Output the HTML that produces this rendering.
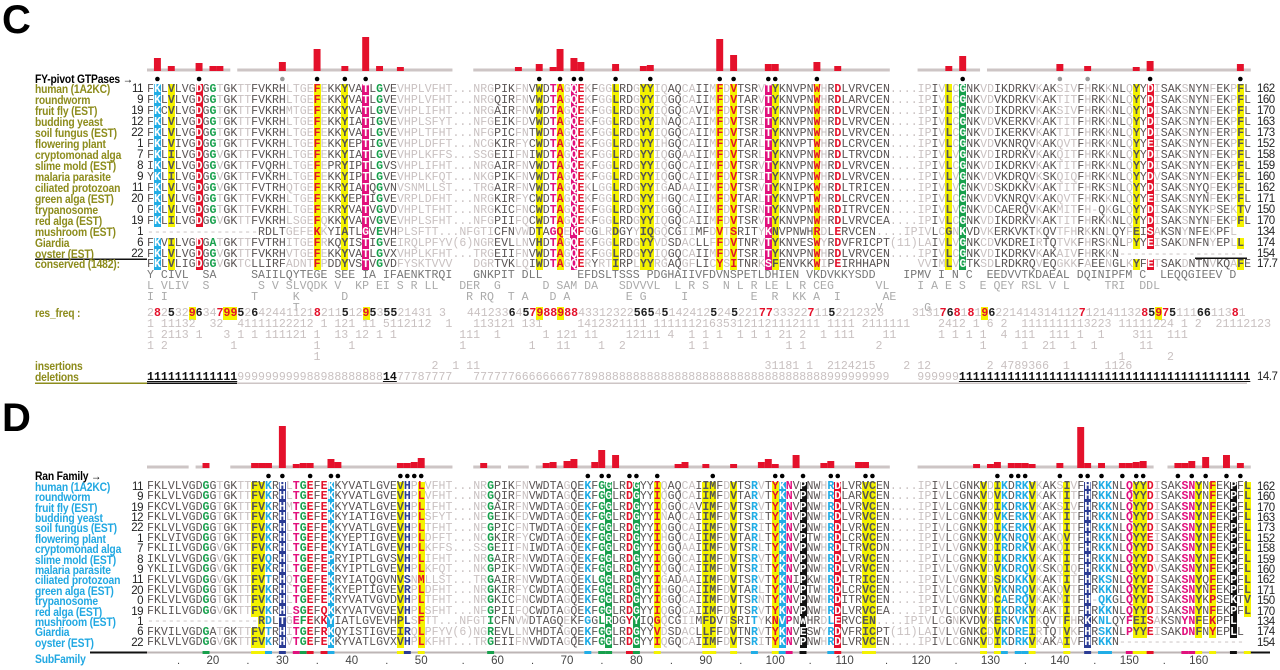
<!DOCTYPE html>
<html><head><meta charset="utf-8">
<style>
html,body{margin:0;padding:0;background:#fff;}
body{width:1280px;height:670px;position:relative;overflow:hidden;font-family:"Liberation Sans",sans-serif;}
.abs{position:absolute;}
.panel-letter{font-weight:bold;font-size:40px;color:#000;left:2px;line-height:40px;}
.lab{position:absolute;left:35px;font-weight:bold;font-size:12px;letter-spacing:-0.2px;white-space:nowrap;line-height:11px;transform:scaleX(0.86);transform-origin:0 50%;}
.num{position:absolute;width:30px;text-align:right;left:113px;font-size:11.5px;color:#222;line-height:11px;letter-spacing:-0.5px;}
.endnum{position:absolute;left:1257px;font-size:11.5px;color:#222;line-height:11px;letter-spacing:-0.5px;}
.seq{position:absolute;left:147px;font-family:"Liberation Mono",monospace;font-size:11.57px;white-space:pre;color:#5a5555;}
.seq span{display:inline-block;}
.olive{color:#8d8c1c;}
.cyanl{color:#21a8e2;}
</style></head><body>
<div class="abs panel-letter" style="top:0px">C</div>
<div class="abs panel-letter" style="top:398px">D</div>
<svg id="svgC" class="abs" style="left:0;top:0" width="1280" height="670"></svg>
<div id="root"></div>
<script>
// ---------- data ----------
const species = ["human (1A2KC)","roundworm","fruit fly (EST)","budding yeast","soil fungus (EST)","flowering plant","cryptomonad alga","slime mold (EST)","malaria parasite","ciliated protozoan","green alga (EST)","trypanosome","red alga (EST)","mushroom (EST)","Giardia","oyster (EST)"];
const startNums = [11,9,19,12,22,1,7,8,9,11,20,0,19,1,6,22];
const endNums = [162,160,170,163,173,152,158,159,160,162,171,150,170,134,174,154];
const seqs = [
"FKLVLVGDGGTGKTTFVKRHLTGEFEKKYVATLGVEVHPLVFHT...NRGPIKFNVWDTAGQEKFGGLRDGYYIQAQCAIIMFDVTSRVTYKNVPNWHRDLVRVCEN....IPIVLCGNKVDIKDRKVKAKSIVFHRKKNLQYYDISAKSNYNFEKPFL",
"FKLVLVGDGGTGKTTFVKRHLTGEFEKKYVATLGVEVHPLVFHT...NRGQIRFNVWDTAGQEKFGGLRDGYYIQGQCAIIMFDVTARVTYKNVPNWHRDLARVCEN....IPIVLCGNKVDVKDRKVKAKTITFHRKKNLQYYDISAKSNYNFEKPFL",
"FKCVLVGDGGTGKTTFVKRHMTGEFEKKYVATLGVEVHPLIFHT...NRGAIRFNVWDTAGQEKFGGLRDGYYIQGQCAVIMFDVTSRVTYKNVPNWHRDLVRVCEN....IPIVLCGNKVDIKDRKVKAKSIVFHRKKNLQYYDISAKSNYNFEKPFL",
"FKLVLVGDGGTGKTTFVKRHLTGEFEKKYIATIGVEVHPLSFYT...NFGEIKFDVWDTAGQEKFGGLRDGYYINAQCAIIMFDVTSRITYKNVPNWHRDLVRVCEN....IPIVLCGNKVDVKERKVKAKTITFHRKKNLQYYDISAKSNYNFEKPFL",
"FKLVLVGDGGTGKTTFVKRHLTGEFEKKYVATLGVEVHPLTFHT...NFGPICFNTWDTAGQEKFGGLRDGYYIQGQCAIIMFDVTSRITYKNVPNWHRDLVRVCEN....IPIVLCGNKVDIKERKVKAKTITFHRKKNLQYYDISAKSNYNFERPFL",
"FKLVIVGDGGTGKTTFVKRHLTGEFEKKYEPTIGVEVHPLDFFT...NCGKIRFYCWDTAGQEKFGGLRDGYYIHGQCAIIMFDVTARLTYKNVPTWHRDLCRVCEN....IPIVLCGNKVDVKNRQVKAKQVTFHRKKNLQYYEISAKSNYNFEKPFL",
"FKLILVGDGGVGKTTFVKRHLTGEFEKKYIATLGVEVHPLKFFS...SSGEIIFNIWDTAGQEKFGGLRDGYYIQGQAAIIMFDVTSRLTYKNVPNWHRDLTRVCDN....IPIVLVGNKVDIRDRKVKAKQITFHRKKNLQYYDISAKSNYNFEKPFL",
"IKLVLVGDGGVGKTTFVQRHLTGEFEPRYIPTLGVSVHPLIFHT...NRGAIRFNVWDTAGQEKFGGLRDGYYIQGQCAIIMFDVTSRVTYKNVPNWHRDLVRVCEN....IPIVLCGNKVDIKDRKVKAKTITFHRKKNLQYYDISAKSNYNFEKPFL",
"YKLILVGDGGVGKTTFVKRHLTGEFEKKYIPTLGVEVHPLKFQT...NKGPIKFNVWDTAGQEKFGGLRDGYYIQGQCAIIMFDVTSRITYKNVPNWHRDLVRVCEN....IPIVLVGNKVDVKDRQVKSKQIQFHRKKNLQYYDVSAKSNYNFEKPFL",
"FKLVLVGDGGVGKTTFVTRHQTGEFEKRYIATQGVNVSNMLLST...TRGAIRFNVWDTAGQEKLGGLRDGYYIGADAAIIMFDVTSRVTYKNIPKWHRDLTRICEN....IPIVLVGNKVDSKDKKVKAKTITFHRKSNLQYYDISAKSNYQFEKPFL",
"FKLVLVGDGGTGKTTFVKRHLTGEFEKKYEPTIGVEVRPLDFHT...NRGKIRFYCWDTAGQEKFGGLRDGYYIHGQCAIIMFDVTARLTYKNVPTWHRDLCRVCEN....IPIVLCGNKVDVKNRQVKAKQVTFHRKKNLQYYEISAKSNYNFEKPFL",
"FKLVLVGDGGTGKTTFVKRHLTGEFEKRYVATVGVDVHPLTFHT...NRGKICFNCWDTAGQEKFGGLRDGYYIGGQCAIIMFDVTSRNTYKNVPNWHRDITRVCEN....IPIVLVGNKVDCAERQVKAKMITFH-QKGLQYYDISAKSNYKPSEKTV",
"FKLILVGDGGVGKTTFVKRHLSGEFQKKYVATVGVEVHPLSFHT...NFGPIIFQCWDTAGQEKFGGLRDGYYIQGQCAIIMFDVTSRVTYKNVPNWHRDLVRVCEA....IPIVLCGNKVDIKDRKVKAKTITFHRKKNLQYYDISAKSNYNFEKPFL",
"----------------RDLTGEFEKKYIATLGVEVHPLSFTT...NFGTICFNVWDTAGQEKFGGLRDGYYIQGQCGIIMFDVTSRITYKNVPNWHRDLERVCEN....IPIVLCGNKVDVKERKVKTKQVTFHRKKNLQYFEISAKSNYNFEKPFL",
"FKVILVGDGATGKTTFVTRHITGEFRKQYISTIGVEIRQLPFYV(6)NGREVLLNVHDTAGQEKFGGLRDGYYVDSDACLLFFDVTNRVTYKNVESWYRDVFRICPT(11)LAIVLVGNKCDVKDREIRTQTVKFHRSKNLPYYEISAKDNFNYEPLL",
"FKLVLVGDGGVGKTTFVKRHVTGEFEKKYVATLGVXVHPLKFHT...TRGEIIFNVWDTAGQEKFGGLRDGYYIQGQCAIIMFDVTSRITYKNVPNWHRDLVRVCEN....IPIVLCGNKVDIKDRKVKAKAIVFHRKKN------------------"
];
const darkMask = "11111111110110011111000010111111111100000000"+"000"+"000111001111101101001110110011001101011110111111110111111111"+"0000"+"001010111001111110110001011011011101110111011011";
// panel C bar data: column index and bar height (px)
const cBarCols = [1,3,7,9,10,19,24,28,31,33,36,53,56,58,59,61,62,67,71,72,82,84,89,90,96,99,115,117,131,135,142,144,157];
const cBarVals = [12,4,7,4,4,8,21,4,33,4,3,3,6,3,21,12,8,6,4,5,31,15,6,6,8,4,4,14,6,4,3,9,6];
const cDots = [1,7,24,28,31,56,59,61,62,67,72,82,84,89,90,96,117,144,157];
const cGreyDots = [19,131,135];
const cGaps = [[12,13],[44,47],[107,111],[120,121]];
// panel D bar data
const dBarCols = [8,15,16,17,19,21,22,23,26,27,36,37,38,39,48,57,58,60,61,64,65,67,76,77,80,84,88,89,90,93,97,98,102,103,119,121,122,124,125,126,127,131,134,135,137,140,141,142,143,148,149,150,152,155,157];
const dBarVals = [4,4,4,4,41,3,4,4,8,5,4,4,5,9,4,4,5,6,8,5,17,12,3,5,3,3,5,8,3,12,4,6,5,5,3,3,5,4,4,4,3,4,40,4,4,4,4,5,6,4,4,6,10,12,4];
const dDots = [17,19,23,26,27,36,37,38,39,63,65,66,69,70,73,81,90,91,94,98,99,103,104,122,124,125,126,131,134,135,137,140,142,143,148,150,152,155,157];
const dGaps = [[6,7],[9,12],[44,47],[51,52],[55,56],[107,111],[145,147]];
const tickLabels = ["20","30","40","50","60","70","80","90","100","110","120","130","140","150","160"];
const tickCols = [9,19,29,39,50,60,70,80,90,100,111,121,131,141,151];
// highlight styles by column: [bg, fg]
const Y="#f4f200",R="#e4112b",M="#e1117d",C="#20ade6",G="#17a04c",N="#2b3c94",K="#111";
const cHi = {1:[C,"#fff"],3:[Y,null],7:[R,"#fff"],9:[null,G],24:[Y,R],28:[Y,null],31:[M,"#fff"],33:[null,G],56:[Y,null],58:[null,M],59:[Y,R],61:[M,"#fff"],62:[null,R],67:[Y,null],71:[Y,null],72:[Y,null],82:[Y,R],84:[Y,R],89:[M,"#fff"],90:[Y,null],96:[Y,R],99:[null,R],115:[Y,null],117:[G,"#fff"],142:[Y,null],144:[R,"#fff"],157:[Y,null]};
const dHi = {8:[null,G],15:[Y,null],16:[Y,null],17:[null,C],19:[N,"#fff"],21:[null,M],22:[null,G],23:[null,R],25:[null,R],26:[C,"#fff"],36:[Y,null],37:[null,N],39:[Y,R],49:[null,G],63:[null,C],65:[null,G],66:[G,"#fff"],69:[null,R],70:[G,"#fff"],73:[Y,R],80:[Y,null],81:[Y,null],84:[Y,null],87:[null,C],90:[Y,R],91:[C,"#fff"],92:[null,M],94:[K,"#fff"],98:[null,C],99:[R,"#fff"],103:[Y,null],104:[Y,null],120:[Y,null],122:[Y,null],123:[null,C],125:[null,C],126:[null,C],127:[Y,null],132:[Y,null],135:[N,"#fff"],137:[null,C],138:[null,C],141:[null,M],142:[Y,null],143:[Y,null],144:[null,R],149:[null,M],150:[null,M],151:[Y,null],153:[Y,R],156:[K,"#fff"],158:[Y,null]};
// C lower rows
const consRows = [
"FKLVLIGDGGVGKTCLLIRFADNTFPDDYVSTVGVDFYSKTVVV   DGRTVKLQIWDTAGQERYRTIRPLYYRGAQGFLICYSITNRKSFENVKKWIPEIRHHAPN    VVIMLVGTKSDLRDKRQVEQGKKFAEENGLKYFETSAKDNTNVKQAFE",
"Y CIVL  SA     SAIILQYTEGE SEE IA IFAENKTRQI   GNKPIT DLL     EFDSLTSSS PDGHAIIVFDVNSPETLDHIEN VKDVKKYSDD    IPMV I N C  EEDVVTKDAEAL DQINIPFM C  LEQQGIEEV D",
"L VLIV  S       S V SLVQDK V  KP EI S R LL   DER  G      D SAM DA   SDVVVL  L R S  N L R LE L R CEG      VL    I A E S  E QEY RSL V L     TRI  DDL ",
"I I            T     K      D                 R RQ  T A   D A        E G     I         E  R  KK A  I      AE  ",
"                     T                                                                                   V      G"
];
const freqRows = [
"28253296347995264244112182115129535521431 3   441233645798898843312322565451424125245221773332271152212323    313176818196221414314112712141132859751116611381",
"1 11132  32  41111122212 1 121 11 5112112  1   113121 131     1412321111 111111216353121121112111 1111 2111111    2412 1 6 2  1111111113223 11111224 1 2  21112123",
"1 2113 1   3 1 1 111121 1  13 12 1 1         111  1      1 121 11    12111 4  1 1 1  1 1 1 21 2  1 111    11      1 1 1 1  4 111  111 1  1    311  111 ",
"1 2         1           1    1               1         1   11    1  2         1 1           1 1          2              1     1  21  1  1      11  ",
"                        1                                                                                                                   1      2"
];
const insRow =   "                                         2  1 11                                         31181 1  2124215    2 12        2 4789366  1     1126";
const delLeft = "1111111111111", delMid1 = "999999999988988888888", delBold2="14", delMid2 = "77787777";
const delMid3 = "777777666666667789888888888888888888888888888888888999999999";
const delMid4 = "999999";
const delRight = "111111111111111111111111111111111111111111";

// ---------- helpers ----------
const CW = 6.942, X0 = 147;
const root = document.getElementById('root');
function colX(c){ return X0 + c*CW; }
function norm(s){ s = s.slice(0,159); while(s.length<159) s+=" "; return s; }
function addDiv(cls, top, text, name, extraStyle){
  const d = document.createElement('div');
  d.className = cls; d.style.top = top+'px'; if(extraStyle) d.style.cssText += extraStyle;
  d.textContent = text;
  
  
  root.appendChild(d); return d;
}
function seqRow(top, lh, s, hi, name){
  const d = document.createElement('div');
  d.className='seq'; d.style.top = top+'px'; d.style.lineHeight = lh+'px'; d.style.height = lh+'px';
  
  
  s = norm(s);
  let buf = "", bufDark = null;
  function flush(){ if(buf){ const sp=document.createElement('span'); sp.style.color = bufDark? '#5a5454':'#c9c1c1'; sp.style.display='inline'; sp.textContent=buf; d.appendChild(sp); buf=""; } }
  for(let i=0;i<s.length;i++){
    const ch = s[i];
    const h = hi[i];
    if(h && ch!==' ' && ch!=='-' && ch!=='.'){
      flush();
      const sp = document.createElement('span');
      
      
      sp.style.height = lh+'px'; sp.style.width = CW+'px';
      if(h[0]) sp.style.background = h[0];
      sp.style.color = h[1] || '#555';
      if(h[0] || h[1]) sp.style.fontWeight = 'bold';
      sp.textContent = ch; d.appendChild(sp);
    } else {
      const dark = darkMask[i]==='1' && ch!=='.' && ch!=='-';
      if(bufDark!==null && dark!==bufDark) flush();
      bufDark = dark; buf += ch;
    }
  }
  flush();
  root.appendChild(d);
}
function plainRow(top, s, color, name, bold){
  const d = addDiv('seq', top, s, name, 'line-height:11px;color:'+color+';'+(bold?'font-weight:bold;':''));
  return d;
}
// ---------- SVG bars ----------
const svg = document.getElementById('svgC');
const NS = "http://www.w3.org/2000/svg";
function rect(x,y,w,h,fill,name){ const r=document.createElementNS(NS,'rect'); r.setAttribute('x',x); r.setAttribute('y',y); r.setAttribute('width',w); r.setAttribute('height',h); r.setAttribute('fill',fill);
  
  
  svg.appendChild(r); return r; }
function circ(cx,cy,fill,name){ const c=document.createElementNS(NS,'circle'); c.setAttribute('cx',cx); c.setAttribute('cy',cy); c.setAttribute('r',2.3); c.setAttribute('fill',fill);
  
  
  svg.appendChild(c); }
function baseline(y, gaps, name){
  let segs=[]; let start=0;
  gaps.forEach(g=>{ segs.push([start,g[0]]); start=g[1]; }); segs.push([start,159]);
  segs.forEach(s=>rect(colX(s[0]), y-1.5, (s[1]-s[0])*CW, 3, '#cdc5c5', name));
}
function bars(cols, vals, y, name){
  for(let i=0;i<cols.length;i++) rect(colX(cols[i]), y - vals[i], CW, vals[i]+1, '#e4112b', name);
}
baseline(70, cGaps, 'c-baseline'); bars(cBarCols, cBarVals, 70, 'c-bar');
cDots.forEach(c=>circ(colX(c)+CW/2, 79, '#000', 'c-dot'));
cGreyDots.forEach(c=>circ(colX(c)+CW/2, 79, '#999', 'c-grey-dot'));
baseline(467, dGaps, 'd-baseline'); bars(dBarCols, dBarVals, 467, 'd-bar');
dDots.forEach(c=>circ(colX(c)+CW/2, 476, '#000', 'd-dot'));
// lines
rect(35,258.5,112,1.5,'#111','c-oyster-rule'); rect(1195,257.5,52,1.5,'#111','c-right-rule');
rect(35,382.5,112,1.5,'#8d8c1c','c-bottom-rule-olive'); rect(147,382.5,90,1.5,'#111','c-bottom-rule-black'); rect(237,382.5,1010,1.5,'#cdc5c5','c-bottom-rule-grey');
rect(90,651.5,57,2,'#111','d-subfamily-rule'); rect(147,651.5,1100,2,'#bdb5b5','d-subfamily-bar'); rect(1245,651.5,25,2,'#111','d-right-rule');
Object.keys(dHi).forEach(k=>{ const h=dHi[k]; rect(colX(+k), 651, CW, 3, h[0]||h[1], 'subfamily-mark'); });

// ---------- panel C ----------
addDiv('lab', 74, 'FY-pivot GTPases \u2192', 'c-group-title', 'color:#000;');
species.forEach((sp,i)=>{
  const y = 83.5 + i*11;
  addDiv('lab olive', y, sp, 'c-species-label');
  addDiv('num', y, String(startNums[i]), 'c-start-number');
  seqRow(y, 11, seqs[i], cHi, 'c-sequence-row');
  addDiv('endnum', y, String(endNums[i]), 'c-end-number');
});
addDiv('lab olive', 259, 'conserved (1482):', 'conserved-label');
consRows.forEach((r,i)=>{
  if(i===0) seqRow(259, 11, r, cHi, 'conserved-row');
  else plainRow(259+i*11, r, i===1?'#777':'#aaa', 'conserved-alt-row');
});
addDiv('endnum', 259, '17.7', 'conserved-score');
addDiv('lab olive', 308, 'res_freq :', 'res-freq-label');
freqRows.forEach((r,i)=>{
  const d = plainRow(308+i*11, r, '#c9c1c1', 'res-freq-row');
  if(i===0){ // color high values
    d.textContent='';
    for(const ch of r){ const sp=document.createElement('span'); sp.style.display='inline';
      sp.textContent=ch;
      if(ch>='7'&&ch<='9'){ sp.style.color='#e4112b'; sp.style.fontWeight='bold'; if(ch==='9'){sp.style.background=Y;} }
      else if(ch>='5'&&ch<='6'){ sp.style.color='#222'; sp.style.fontWeight='bold'; }
      d.appendChild(sp); }
  }
});
addDiv('lab olive', 361, 'insertions', 'insertions-label');
plainRow(361, insRow, '#c9c1c1', 'insertions-row');
addDiv('lab olive', 372, 'deletions', 'deletions-label');
(function(){
  const d = addDiv('seq', 372, '', 'deletions-row', 'line-height:11px;');
  function part(t, col, bold, ul){ const sp=document.createElement('span'); sp.style.display='inline'; sp.textContent=t; sp.style.color=col; if(bold) sp.style.fontWeight='bold'; if(ul) sp.style.textDecoration='underline'; d.appendChild(sp); }
  part(delLeft,'#111',true,true); part(delMid1,'#c9c1c1'); part(delBold2,'#111',true,true); part(delMid2,'#c9c1c1');
  part('   ','#c9c1c1'); part(delMid3,'#c9c1c1'); part('    ','#fff'); part(delMid4,'#c9c1c1');
  part(delRight,'#111',true,true);
})();
addDiv('endnum', 372, '14.7', 'deletions-score');

// ---------- panel D ----------
addDiv('lab', 471, 'Ran Family \u2192', 'd-group-title', 'color:#000;');
species.forEach((sp,i)=>{
  const y = 482 + i*10.4;
  addDiv('lab cyanl', y-0.3, sp, 'd-species-label');
  addDiv('num', y-0.3, String(startNums[i]), 'd-start-number');
  seqRow(y, 10.4, seqs[i], dHi, 'd-sequence-row');
  addDiv('endnum', y-0.3, String(endNums[i]), 'd-end-number');
});
addDiv('lab cyanl', 654, 'SubFamily', 'subfamily-label');
tickLabels.forEach((t,i)=>{
  const d = document.createElement('div');
  d.className='abs'; d.style.cssText='top:655px;font-size:11.5px;color:#444;width:30px;text-align:center;line-height:12px;';
  d.style.left = (colX(tickCols[i]) + CW/2 - 15) + 'px';
  d.textContent = t;
  
  
  root.appendChild(d);
  const dot = document.createElement('div');
  dot.className='abs'; dot.style.cssText='top:655px;font-size:11px;color:#444;line-height:12px;';
  dot.style.left = (colX(tickCols[i]) + CW/2 - 36) + 'px';
  dot.textContent='.';
  
  
  root.appendChild(dot);
});
</script>
</body></html>
